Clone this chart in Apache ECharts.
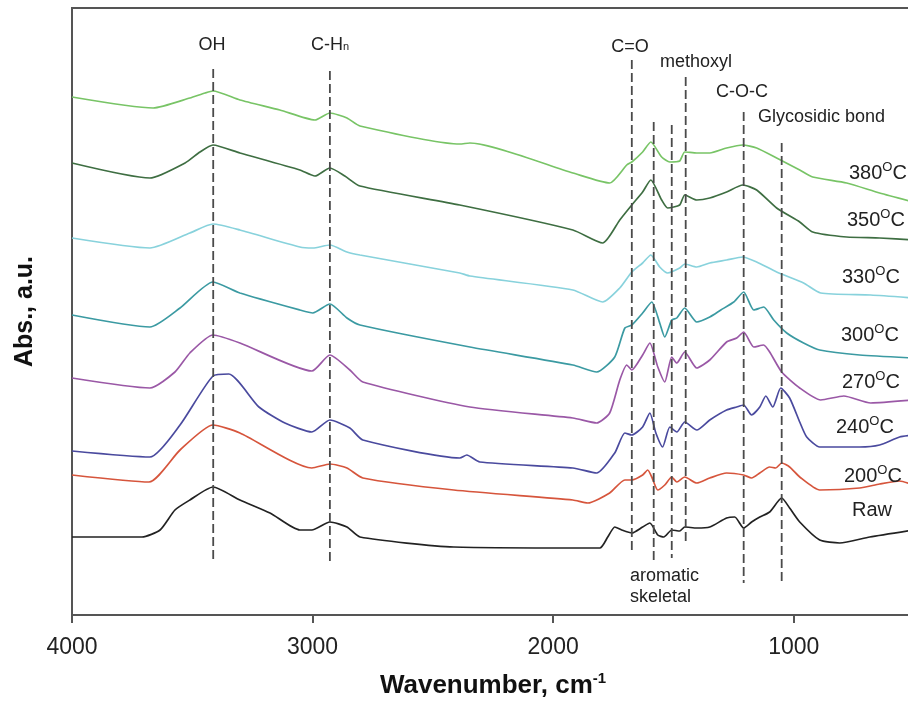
<!DOCTYPE html>
<html>
<head>
<meta charset="utf-8">
<script src="https://cdn.jsdelivr.net/npm/echarts@6/dist/echarts.min.js"></script>
<style>
  html, body { margin: 0; padding: 0; background: #fff; }
  #chart { width: 908px; height: 701px; }
</style>
</head>
<body>
<div id="chart"></div>
<script>
// FTIR spectra of raw and torrefied samples, offset vertically (wavenumber cm-1, absorbance a.u.)
const spectrum380 = [[4000,5.18],[3663,5.07],[3510,5.17],[3447,5.22],[3414,5.24],[3302,5.15],[3136,5.05],[2990,4.95],[2928,5.02],[2857,4.97],[2803,4.89],[2388,4.71],[2346,4.72],[1918,4.42],[1765,4.32],[1694,4.50],[1673,4.53],[1628,4.63],[1594,4.73],[1549,4.58],[1515,4.53],[1474,4.54],[1453,4.63],[1403,4.62],[1349,4.62],[1279,4.67],[1212,4.70],[1154,4.67],[1071,4.57],[975,4.45],[921,4.38],[780,4.32],[643,4.22],[502,4.13]];
const spectrum350 = [[4000,4.52],[3676,4.37],[3530,4.52],[3468,4.63],[3414,4.70],[3302,4.62],[3053,4.45],[2990,4.39],[2928,4.47],[2866,4.39],[2803,4.29],[2388,4.10],[1918,3.85],[1794,3.72],[1723,3.95],[1673,4.10],[1628,4.23],[1594,4.35],[1549,4.15],[1524,4.07],[1474,4.10],[1453,4.20],[1403,4.15],[1349,4.17],[1279,4.23],[1212,4.30],[1154,4.25],[1071,4.07],[975,3.93],[921,3.83],[780,3.78],[643,3.77],[502,3.75]];
const spectrum330 = [[4000,3.77],[3676,3.67],[3510,3.82],[3414,3.91],[3302,3.85],[3053,3.68],[2999,3.67],[2928,3.70],[2857,3.63],[2803,3.60],[2388,3.42],[2346,3.39],[1918,3.25],[1794,3.13],[1723,3.27],[1673,3.43],[1628,3.52],[1594,3.60],[1557,3.48],[1524,3.42],[1474,3.47],[1453,3.51],[1403,3.48],[1349,3.52],[1279,3.55],[1212,3.58],[1154,3.53],[1071,3.43],[959,3.32],[888,3.22],[680,3.20],[502,3.17]];
const spectrum300 = [[4000,3.00],[3676,2.88],[3551,3.07],[3414,3.33],[3302,3.22],[3053,3.05],[2999,3.02],[2928,3.11],[2857,2.97],[2803,2.90],[2346,2.68],[1918,2.50],[1819,2.43],[1744,2.58],[1702,2.87],[1673,2.90],[1628,3.02],[1590,3.13],[1557,2.92],[1536,2.78],[1507,2.95],[1486,2.97],[1453,3.07],[1403,2.93],[1349,2.98],[1303,3.05],[1249,3.13],[1208,3.23],[1166,3.05],[1125,3.08],[1083,2.95],[1029,2.82],[959,2.72],[892,2.65],[726,2.60],[502,2.57]];
const spectrum270 = [[4000,2.37],[3676,2.27],[3572,2.43],[3510,2.62],[3414,2.80],[3302,2.72],[3003,2.44],[2928,2.60],[2845,2.45],[2791,2.33],[2346,2.08],[1918,1.97],[1819,1.92],[1765,2.02],[1723,2.35],[1694,2.50],[1673,2.45],[1628,2.60],[1598,2.72],[1565,2.48],[1536,2.33],[1507,2.58],[1486,2.52],[1453,2.63],[1403,2.47],[1349,2.55],[1279,2.73],[1237,2.77],[1208,2.83],[1166,2.68],[1125,2.70],[1100,2.63],[1050,2.43],[975,2.27],[888,2.15],[792,2.19],[680,2.12],[502,2.15]];
const spectrum240 = [[4000,1.64],[3676,1.58],[3551,1.90],[3414,2.39],[3348,2.41],[3223,2.08],[3115,1.92],[3003,1.83],[2928,1.95],[2845,1.87],[2791,1.75],[2388,1.57],[2359,1.60],[2305,1.53],[1918,1.47],[1819,1.42],[1744,1.62],[1702,1.82],[1673,1.80],[1628,1.88],[1598,2.02],[1573,1.82],[1545,1.68],[1515,1.88],[1486,1.83],[1453,1.93],[1403,1.85],[1349,1.95],[1279,2.05],[1237,2.08],[1208,2.10],[1175,2.00],[1141,2.08],[1116,2.19],[1087,2.08],[1054,2.27],[1017,2.17],[975,1.93],[946,1.78],[892,1.68],[726,1.68],[643,1.70],[560,1.78],[502,1.80]];
const spectrum200 = [[4000,1.40],[3680,1.33],[3551,1.65],[3414,1.90],[3302,1.82],[3003,1.47],[2928,1.51],[2857,1.47],[2791,1.37],[2413,1.25],[1918,1.15],[1856,1.12],[1765,1.22],[1702,1.35],[1673,1.35],[1628,1.40],[1607,1.45],[1590,1.38],[1565,1.25],[1536,1.30],[1507,1.38],[1486,1.33],[1453,1.38],[1403,1.32],[1349,1.37],[1279,1.42],[1208,1.40],[1175,1.37],[1141,1.42],[1100,1.48],[1075,1.47],[1050,1.52],[1017,1.48],[975,1.38],[892,1.25],[726,1.27],[643,1.31],[560,1.34],[502,1.30]];
const spectrumRaw = [[4000,0.78],[3709,0.78],[3634,0.85],[3572,1.05],[3510,1.15],[3414,1.28],[3302,1.15],[3177,1.02],[3053,0.85],[3003,0.85],[2928,0.93],[2857,0.88],[2803,0.78],[2413,0.68],[1806,0.67],[1773,0.78],[1744,0.88],[1715,0.85],[1673,0.82],[1628,0.88],[1598,0.92],[1565,0.80],[1540,0.78],[1507,0.85],[1474,0.84],[1453,0.88],[1403,0.87],[1349,0.88],[1279,0.97],[1245,0.98],[1208,0.87],[1175,0.93],[1141,0.98],[1100,1.03],[1050,1.17],[1017,1.07],[975,0.93],[892,0.75],[809,0.72],[684,0.78],[502,0.85]];

const sampleNames = ['380', '350', '330', '300', '270', '240', '200', 'Raw'];
const sampleSpectra = [spectrum380, spectrum350, spectrum330, spectrum300, spectrum270, spectrum240, spectrum200, spectrumRaw];
const sampleColors = ['#78c466', '#3e6e42', '#88d2dc', '#3b9aa2', '#9a58a6', '#4a4a9e', '#d6553c', '#222222'];

// Band assignment markers: wavenumber and vertical extent
const bandWavenumbers = [3413, 2928, 1673, 1582, 1507, 1449, 1208, 1050];
const bandTop = [5.46, 5.44, 5.55, 4.93, 4.90, 5.38, 5.03, 4.72];
const bandBottom = [0.53, 0.52, 0.65, 0.52, 0.57, 0.72, 0.32, 0.30];

const xTicks = [4000, 3000, 2000, 1000];

const FONT = 'Liberation Sans, Arial, sans-serif';
const chart = echarts.init(document.getElementById('chart'), null, { renderer: 'canvas' });

const series = [];
sampleSpectra.forEach((d, i) => {
  series.push({
    name: sampleNames[i],
    type: 'line',
    data: d,
    showSymbol: false,
    smooth: 0.2,
    lineStyle: { color: sampleColors[i], width: 1.7 },
    silent: true,
    z: 2
  });
});
bandWavenumbers.forEach((w, i) => {
  series.push({
    type: 'line',
    data: [[w, bandTop[i]], [w, bandBottom[i]]],
    showSymbol: false,
    lineStyle: { color: '#4a4a4a', width: 1.8, type: [9, 4] },
    silent: true,
    z: 3
  });
});

// Text annotations
function txt(x, y, text, size, align, rich) {
  return {
    type: 'text', x: x, y: y, z: 10,
    style: {
      text: text, fontSize: size, fontFamily: FONT, fill: '#222',
      align: align || 'center', verticalAlign: 'middle', rich: rich
    }
  };
}
const degRich = {
  n: { fontSize: 20, fontFamily: FONT, fill: '#222', lineHeight: 22 },
  s: { fontSize: 13, fontFamily: FONT, fill: '#222', lineHeight: 13, padding: [0, 0, 12, 0] }
};
const tempLabelPos = [[849,173],[847,220],[842,277],[841,335],[842,382],[836,427],[844,476],[852,510]];
const graphics = [
  txt(212, 45, 'OH', 18),
  txt(330, 45, '{a|C-H}{b|n}', 18, 'center', {
    a: { fontSize: 18, fontFamily: FONT, fill: '#222', lineHeight: 20 },
    b: { fontSize: 11, fontFamily: FONT, fill: '#222', lineHeight: 11, padding: [0, 0, -3, 0] }
  }),
  txt(630, 47, 'C=O', 18),
  txt(696, 62, 'methoxyl', 18),
  txt(742, 92, 'C-O-C', 18),
  txt(758, 117, 'Glycosidic bond', 18, 'left'),
  txt(630, 576, 'aromatic', 18, 'left'),
  txt(630, 597, 'skeletal', 18, 'left')
];
sampleNames.forEach((n, i) => {
  const p = tempLabelPos[i];
  if (n === 'Raw') graphics.push(txt(p[0], p[1], 'Raw', 20, 'left'));
  else graphics.push(txt(p[0], p[1], '{n|' + n + '}{s|O}{n|C}', 20, 'left', degRich));
});

chart.setOption({
  animation: false,
  backgroundColor: '#fff',
  grid: {
    left: 72, top: 8, width: 842, height: 607,
    outerBoundsMode: 'none', containLabel: false,
    show: true, borderColor: '#555', borderWidth: 2
  },
  xAxis: {
    type: 'value', min: 500, max: 4000, inverse: true,
    name: '{a|Wavenumber, cm}{b|-1}', nameLocation: 'middle', nameGap: 57,
    nameTextStyle: {
      rich: {
        a: { fontSize: 26, fontWeight: 'bold', fontFamily: FONT, color: '#111', lineHeight: 28 },
        b: { fontSize: 15, fontWeight: 'bold', fontFamily: FONT, color: '#111', lineHeight: 15, padding: [0, 0, 14, 0] }
      }
    },
    axisLine: { show: true, lineStyle: { color: '#555', width: 2 } },
    axisTick: { show: true, inside: false, length: 8, customValues: xTicks, lineStyle: { color: '#555', width: 2 } },
    axisLabel: { customValues: xTicks, fontSize: 23, fontFamily: FONT, color: '#222', margin: 21, formatter: v => String(v) },
    splitLine: { show: false }
  },
  yAxis: {
    type: 'value', min: 0, max: 6.07,
    name: 'Abs., a.u.', nameLocation: 'middle', nameGap: 34, nameRotate: 90,
    nameTextStyle: { fontSize: 25, fontWeight: 'bold', fontFamily: FONT, color: '#111' },
    axisLine: { show: true, lineStyle: { color: '#555', width: 2 } },
    axisTick: { show: false },
    axisLabel: { show: false },
    splitLine: { show: false }
  },
  series: series,
  graphic: graphics
});
</script>
</body>
</html>
